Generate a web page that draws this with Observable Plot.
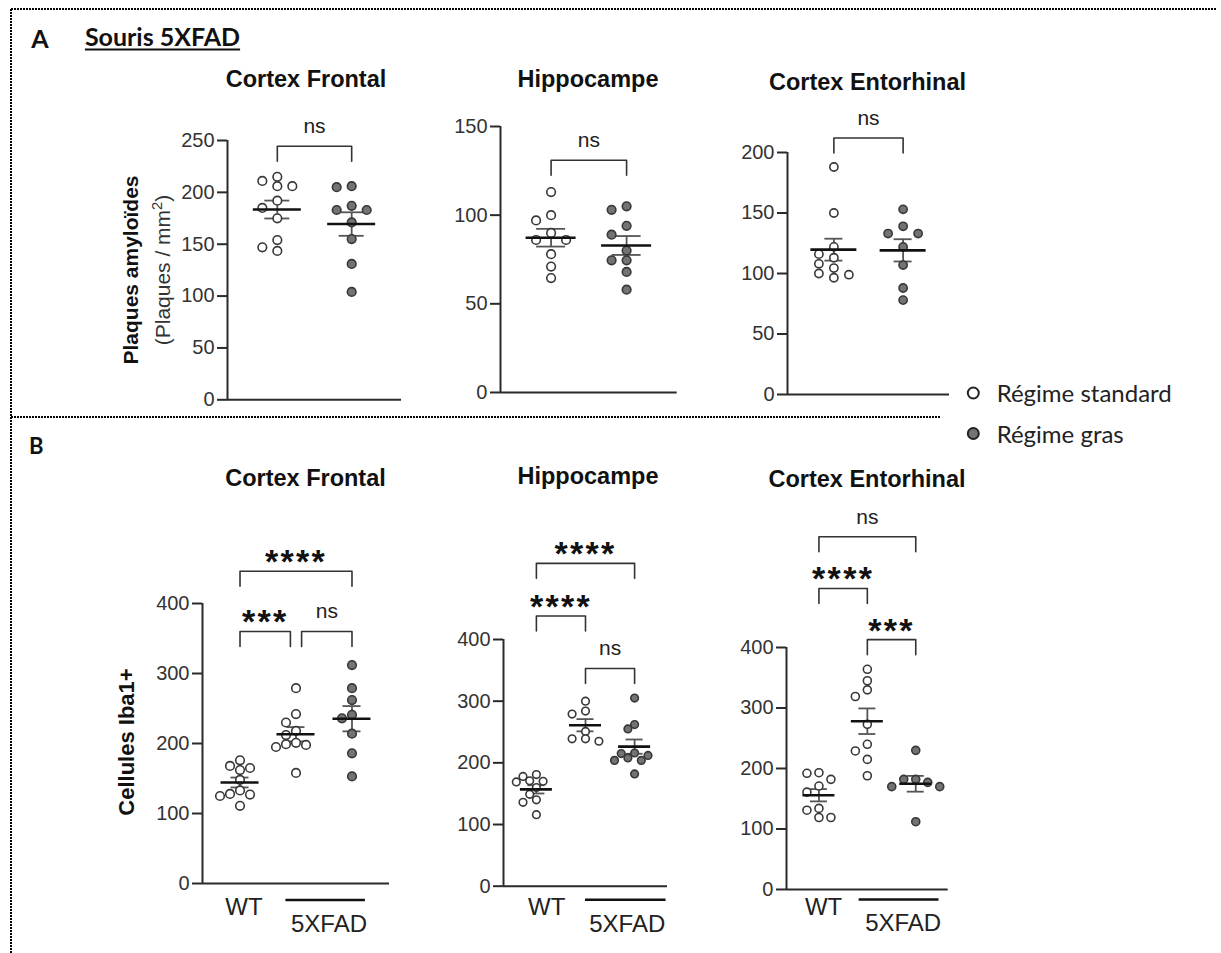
<!DOCTYPE html>
<html><head><meta charset="utf-8">
<script src="https://cdn.jsdelivr.net/npm/d3@7"></script>
<script src="https://cdn.jsdelivr.net/npm/@observablehq/plot@0.6"></script>
<style>
body{margin:0;background:#fff;}
#root{position:relative;width:1221px;height:953px;overflow:hidden;font-family:"Liberation Sans",Arial,sans-serif;color:#111;}
.abs{position:absolute;white-space:nowrap;line-height:1;transform:translate(-50%,-50%);}
.title{font-weight:bold;font-size:23.5px;color:#111;}
.ylab{transform:translate(-50%,-50%) rotate(-90deg);}
.cal{font-family:Lato,"Open Sans",sans-serif;}
.stars text{letter-spacing:2.3px;}
svg.plot{position:absolute;overflow:visible;}
</style></head><body><div id="root"></div>
<script>
// ---------------- DATA ----------------
const regions = ["Cortex Frontal", "Hippocampe", "Cortex Entorhinal"];
const dietLabels = ["Régime standard", "Régime gras"];
const genotypeLabels = ["WT", "5XFAD"];

// Panel A : Plaques amyloïdes (plaques / mm²), souris 5XFAD
const plaqFrontalStd  = [215, 211, 206, 206, 192, 185, 175, 154, 147, 143.5];
const plaqFrontalGras = [206, 205, 187, 183, 183, 171, 155, 131, 104];
const plaqHippoStd    = [113, 100, 97, 90, 86, 86, 78, 71, 64.5];
const plaqHippoGras   = [105, 103, 94, 89, 80, 74.5, 74.5, 68, 58];
const plaqEntoStd     = [188, 150, 122, 116, 113, 108, 104.5, 100, 99, 96.5];
const plaqEntoGras    = [153, 139, 133, 133, 122, 107, 88, 78];

// Panel B : Cellules Iba1+  (WT, 5XFAD standard, 5XFAD gras)
const ibaFrontalWT   = [176, 168, 165, 162, 148, 133, 128, 127, 125, 111];
const ibaFrontalStd  = [279, 242, 230, 218, 212, 201, 199, 198, 195, 158];
const ibaFrontalGras = [312, 279, 262, 241, 236, 214, 186, 153];
const ibaHippoWT     = [181, 178, 171, 170, 169, 160, 149, 140, 136, 116];
const ibaHippoStd    = [300, 284, 279, 251, 239, 239, 235];
const ibaHippoGras   = [305, 262, 255, 216, 215, 212, 208, 204, 204, 182];
const ibaEntoWT      = [193, 192, 182, 171, 161, 134, 131, 119, 119];
const ibaEntoStd     = [364, 345, 330, 319, 273, 240, 229, 215, 188];
const ibaEntoGras    = [230, 182, 182, 177, 170, 170, 112];

const ticksA = [[0, 50, 100, 150, 200, 250], [0, 50, 100, 150], [0, 50, 100, 150, 200]];
const ticksB = [0, 100, 200, 300, 400];

// significance brackets (group a → group b, label, bracket height in data units)
const compsA = [
  [{a: 0, b: 1, label: "ns", y: 244.5}],
  [{a: 0, b: 1, label: "ns", y: 131}],
  [{a: 0, b: 1, label: "ns", y: 212}]
];
const compsB = [
  [{a: 0, b: 2, label: "****", y: 446}, {a: 0, b: 0.9, label: "***", y: 360}, {a: 1.1, b: 2, label: "ns", y: 360}],
  [{a: 0, b: 2, label: "****", y: 523.5}, {a: 0, b: 1, label: "****", y: 438}, {a: 1, b: 2, label: "ns", y: 353}],
  [{a: 0, b: 2, label: "ns", y: 583}, {a: 0, b: 1, label: "****", y: 497.5}, {a: 1, b: 2, label: "***", y: 413}]
];

// ---------------- LAYOUT (page pixels) ----------------
const layoutA = [
  {left: 227, right: 401, top: 140, zero: 399.3, step: 15, r: 4.3, minD: 9, meanHalf: 24, capHalf: 12.5, title: [306, 80]},
  {left: 500, right: 676.7, top: 126, zero: 392, step: 15, r: 4.3, minD: 9, meanHalf: 25, capHalf: 14.5, title: [588, 80]},
  {left: 787.3, right: 949.3, top: 152.3, zero: 394.3, step: 15, r: 4.1, minD: 8.5, meanHalf: 23, capHalf: 9, title: [867.5, 83]}
];
const layoutB = [
  {left: 201.7, right: 388.7, top: 602.7, zero: 882.7, step: 10, r: 4.3, minD: 9, meanHalf: 19, capHalf: 9, title: [305.5, 479], wt: 0.07, fad: [0.82, 2.24], fadX: 1.59},
  {left: 502.7, right: 666.7, top: 639, zero: 885.7, step: 6.7, r: 3.8, minD: 7.4, meanHalf: 16, capHalf: 8.5, title: [588, 477], wt: 0.21, fad: [1.0, 2.64], fadX: 1.85},
  {left: 786, right: 947.7, top: 647.3, zero: 889.3, step: 12, r: 4, minD: 8.2, meanHalf: 16, capHalf: 8.5, title: [867, 480], wt: 0.095, fad: [0.83, 2.48], fadX: 1.74}
];

const root = document.getElementById("root");
const OPEN = "#ffffff", FILLED = "#737373", EDGE = "#383838", AX = "#2a2a2a";

function addDiv(html, x, y, cls, style) {
  const d = document.createElement("div");
  d.className = "abs " + (cls || "");
  d.innerHTML = html;
  d.style.left = x + "px"; d.style.top = y + "px";
  if (style) Object.assign(d.style, style);
  root.appendChild(d);
  return d;
}

function panel(series, fills, ticks, comps, L, xlab) {
  const mL = 60, mR = 20, mT = 110, mB = 70;
  const n = series.length;
  const xDom = [-0.67, n - 1 + 0.67];
  const ymax = ticks[ticks.length - 1];
  const fw = L.right - L.left, fh = L.zero - L.top;
  const pxX = fw / (xDom[1] - xDom[0]);
  const pxY = fh / ymax;
  // column beeswarm (computed from values)
  const pts = [];
  series.forEach((vals, i) => {
    const placed = [];
    vals.slice().sort((a, b) => b - a).forEach(v => {
      const yp = v * pxY;
      let off = 0;
      for (let k = 0; k < 40; k++) {
        const c = k === 0 ? 0 : (k % 2 ? -Math.ceil(k / 2) : Math.ceil(k / 2)) * L.step;
        if (placed.every(p => Math.hypot(p.x - c, p.y - yp) >= L.minD)) { off = c; break; }
      }
      placed.push({x: off, y: yp});
      pts.push({i, x: i + off / pxX, y: v, fill: fills[i]});
    });
  });
  const stats = series.map((vals, i) => {
    const m = d3.mean(vals), s = d3.deviation(vals) / Math.sqrt(vals.length);
    return {i, mean: m, lo: m - s, hi: m + s};
  });
  const leg = 15 / pxY;
  const brLines = [];
  comps.forEach((c, k) => {
    brLines.push({k, x: c.a, y: c.y - leg}, {k, x: c.a, y: c.y}, {k, x: c.b, y: c.y}, {k, x: c.b, y: c.y - leg});
  });
  const marks = [
    Plot.ruleY([0], {stroke: AX, strokeWidth: 2}),
    Plot.ruleX([xDom[0]], {y1: 0, y2: ymax, stroke: AX, strokeWidth: 2}),
    Plot.axisY({ticks, tickSize: 10, tickPadding: 3, fontSize: 20, label: null, stroke: AX, strokeWidth: 2, color: "#333"}),
    Plot.ruleX(stats, {x: "i", y1: "lo", y2: "hi", stroke: "#555", strokeWidth: 1.8}),
    Plot.ruleY(stats, {y: "lo", x1: d => d.i - L.capHalf / pxX, x2: d => d.i + L.capHalf / pxX, stroke: "#555", strokeWidth: 1.8}),
    Plot.ruleY(stats, {y: "hi", x1: d => d.i - L.capHalf / pxX, x2: d => d.i + L.capHalf / pxX, stroke: "#555", strokeWidth: 1.8}),
    Plot.dot(pts, {x: "x", y: "y", r: L.r, fill: "fill", stroke: EDGE, strokeWidth: 1.6}),
    Plot.ruleY(stats, {y: "mean", x1: d => d.i - L.meanHalf / pxX, x2: d => d.i + L.meanHalf / pxX, stroke: "#111", strokeWidth: 2.6}),
    Plot.line(brLines, {x: "x", y: "y", z: "k", stroke: "#333", strokeWidth: 1.6}),
    Plot.text(comps.filter(c => c.label === "ns"), {x: c => (c.a + c.b) / 2, y: "y", text: "label", dy: -20, fontSize: 21, fill: "#222"}),
    Plot.text(comps.filter(c => c.label !== "ns"), {x: c => (c.a + c.b) / 2, y: "y", text: "label", dy: -9, fontSize: 34, fontWeight: "bold", fill: "#111", className: "stars"})
  ];
  if (xlab) {
    marks.push(
      Plot.text([genotypeLabels[0]], {x: L.wt, y: 0, text: d => d, dy: 906.7 - L.zero, fontSize: 24, fill: "#222"}),
      Plot.ruleY([0], {x1: L.fad[0], x2: L.fad[1], dy: 899.3 - L.zero, stroke: "#111", strokeWidth: 2.5}),
      Plot.text([genotypeLabels[1]], {x: L.fadX, y: 0, text: d => d, dy: 923.5 - L.zero, fontSize: 24, fill: "#222"})
    );
  }
  const svg = Plot.plot({
    width: fw + mL + mR, height: fh + mT + mB,
    marginLeft: mL, marginRight: mR, marginTop: mT, marginBottom: mB,
    x: {domain: xDom, axis: null},
    y: {domain: [0, ymax], axis: null},
    style: {fontFamily: "Liberation Sans, Arial, sans-serif", background: "transparent", overflow: "visible"},
    marks
  });
  svg.classList.add("plot");
  svg.style.left = (L.left - mL) + "px";
  svg.style.top = (L.top - mT) + "px";
  root.appendChild(svg);
}

// ---------------- FRAME (dotted separators) ----------------
const frame = d3.create("svg").attr("width", 1221).attr("height", 953)
  .style("position", "absolute").style("left", 0).style("top", 0);
const dots = {stroke: "#000", "stroke-width": 2, "stroke-dasharray": "2 1"};
[[11, 9, 1216, 9], [11, 9, 11, 953], [11, 417, 940, 417]].forEach(([x1, y1, x2, y2]) => {
  const l = frame.append("line").attr("x1", x1).attr("y1", y1).attr("x2", x2).attr("y2", y2);
  Object.entries(dots).forEach(([k, v]) => l.attr(k, v));
});
// legend symbols
frame.append("circle").attr("cx", 973.3).attr("cy", 393).attr("r", 5.5).attr("fill", OPEN).attr("stroke", "#222").attr("stroke-width", 2);
frame.append("circle").attr("cx", 973.3).attr("cy", 433.5).attr("r", 5.5).attr("fill", FILLED).attr("stroke", "#222").attr("stroke-width", 2);
root.appendChild(frame.node());

// ---------------- PANEL A ----------------
addDiv("A", 40, 37.5, "cal", {fontWeight: "bold", fontSize: "25px"});
addDiv("Souris 5XFAD", 162.5, 36, "cal", {fontWeight: "bold", fontSize: "25px", textDecoration: "underline", textUnderlineOffset: "3px"});
addDiv("Plaques amyloïdes", 130, 270, "ylab", {fontWeight: "bold", fontSize: "21px"});
addDiv("(Plaques / mm<sup style='font-size:0.7em;line-height:0'>2</sup>)", 161.7, 270, "ylab", {fontSize: "21px", color: "#333"});

const seriesA = [[plaqFrontalStd, plaqFrontalGras], [plaqHippoStd, plaqHippoGras], [plaqEntoStd, plaqEntoGras]];
seriesA.forEach((s, k) => {
  addDiv(regions[k], layoutA[k].title[0], layoutA[k].title[1], "title");
  panel(s, [OPEN, FILLED], ticksA[k], compsA[k], layoutA[k], false);
});

// legend
addDiv(dietLabels[0], 996.7, 393, "cal", {fontSize: "24px", transform: "translate(0,-50%)", color: "#222"});
addDiv(dietLabels[1], 996.7, 434, "cal", {fontSize: "24px", transform: "translate(0,-50%)", color: "#222"});

// ---------------- PANEL B ----------------
addDiv("B", 36.3, 445.5, "cal", {fontWeight: "bold", fontSize: "22px"});
addDiv("Cellules Iba1+", 126.7, 742, "ylab", {fontWeight: "bold", fontSize: "22px"});
const seriesB = [[ibaFrontalWT, ibaFrontalStd, ibaFrontalGras], [ibaHippoWT, ibaHippoStd, ibaHippoGras], [ibaEntoWT, ibaEntoStd, ibaEntoGras]];
seriesB.forEach((s, k) => {
  addDiv(regions[k], layoutB[k].title[0], layoutB[k].title[1], "title");
  panel(s, [OPEN, OPEN, FILLED], ticksB, compsB[k], layoutB[k], true);
});
</script></body></html>
